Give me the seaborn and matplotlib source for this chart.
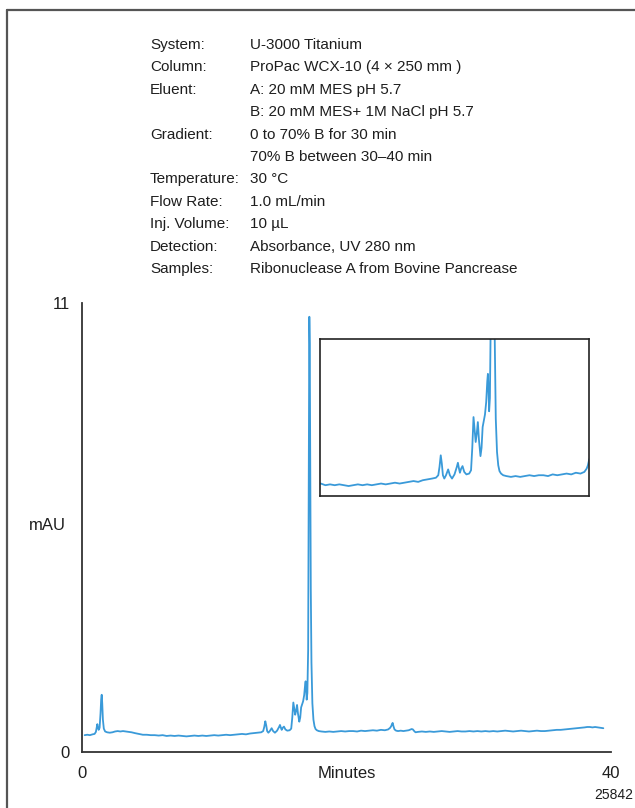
import matplotlib
matplotlib.use("Agg")
import matplotlib.pyplot as plt
from matplotlib.lines import Line2D
import seaborn as sns
import pandas as pd

# chromatogram, in pieces (minutes, mAU)
t_early = [0.2, 0.4, 0.6, 0.8, 0.95, 1.05, 1.12, 1.16, 1.20, 1.26,
           1.33, 1.40, 1.45, 1.49, 1.53, 1.58, 1.65, 1.75, 1.9, 2.1,
           2.3, 2.5, 2.7, 2.9, 3.1, 3.3, 3.5, 3.75, 4.0, 4.3,
           4.6, 4.9, 5.2, 5.5, 5.8]
s_early = [0.42, 0.43, 0.42, 0.44, 0.45, 0.50, 0.62, 0.69, 0.62, 0.55,
           0.60, 0.95, 1.30, 1.41, 1.20, 0.80, 0.58, 0.51, 0.49, 0.48,
           0.49, 0.51, 0.52, 0.51, 0.52, 0.51, 0.50, 0.49, 0.47, 0.45,
           0.43, 0.43, 0.42, 0.42, 0.41]

t_flat = [6.1, 6.4, 6.7, 7.0, 7.3, 7.6, 7.9, 8.2, 8.5, 8.8,
          9.1, 9.4, 9.7, 10.0, 10.3, 10.6, 10.9, 11.2, 11.5, 11.8,
          12.1, 12.4, 12.7, 13.0, 13.3, 13.55]
s_flat = [0.42, 0.40, 0.41, 0.40, 0.41, 0.40, 0.39, 0.40, 0.41, 0.40,
          0.41, 0.40, 0.41, 0.42, 0.41, 0.42, 0.43, 0.42, 0.43, 0.44,
          0.45, 0.44, 0.46, 0.47, 0.48, 0.49]

t_cluster = [13.70, 13.78, 13.86, 13.93, 14.00, 14.09, 14.20, 14.34, 14.45, 14.59,
             14.75, 14.90, 14.97, 15.04, 15.10, 15.18, 15.27, 15.38, 15.52, 15.70,
             15.82, 15.90, 15.98, 16.06, 16.12, 16.19, 16.26, 16.33, 16.43, 16.50,
             16.57, 16.63, 16.72, 16.80, 16.87, 16.91, 16.95, 16.99, 17.04]
s_cluster = [0.52, 0.62, 0.76, 0.66, 0.52, 0.48, 0.52, 0.59, 0.52, 0.48,
             0.53, 0.62, 0.67, 0.60, 0.55, 0.60, 0.63, 0.56, 0.53, 0.54,
             0.58, 0.85, 1.22, 1.05, 0.92, 1.02, 1.16, 0.95, 0.75, 0.85,
             1.10, 1.16, 1.25, 1.40, 1.65, 1.74, 1.55, 1.29, 1.45]

t_main = [17.10, 17.14, 17.17, 17.19, 17.22, 17.26, 17.30, 17.35, 17.42, 17.50,
          17.58, 17.66, 17.76, 17.90]
s_main = [2.5, 6.5, 10.0, 10.67, 10.0, 7.0, 4.0, 2.2, 1.2, 0.80,
          0.64, 0.57, 0.54, 0.52]

t_mid = [18.1, 18.4, 18.7, 19.0, 19.3, 19.6, 19.9, 20.2, 20.5, 20.8,
         21.1, 21.4, 21.7, 22.0, 22.3, 22.6, 22.9, 23.15, 23.30, 23.38,
         23.44, 23.49, 23.55, 23.63, 23.75, 23.9, 24.1, 24.3, 24.5, 24.7,
         24.85, 24.93, 25.02, 25.12, 25.22, 25.4]
s_mid = [0.51, 0.50, 0.51, 0.50, 0.51, 0.52, 0.51, 0.52, 0.52, 0.51,
         0.53, 0.52, 0.53, 0.54, 0.53, 0.55, 0.54, 0.56, 0.60, 0.64,
         0.69, 0.72, 0.64, 0.56, 0.53, 0.52, 0.53, 0.52, 0.53, 0.54,
         0.56, 0.57, 0.56, 0.52, 0.49, 0.50]

t_late = [25.7, 26.0, 26.3, 26.6, 26.9, 27.2, 27.5, 27.8, 28.1, 28.4,
          28.7, 29.0, 29.3, 29.6, 29.9, 30.2, 30.5, 30.8, 31.1, 31.4,
          31.7, 32.0, 32.3, 32.6, 32.9, 33.2, 33.5, 33.8, 34.1, 34.4,
          34.7, 35.0, 35.3, 35.6, 35.9, 36.2, 36.5, 36.8, 37.1, 37.4,
          37.7, 38.0, 38.2, 38.4, 38.6, 38.8, 39.0, 39.2, 39.42]
s_late = [0.51, 0.50, 0.51, 0.50, 0.51, 0.52, 0.51, 0.50, 0.51, 0.52,
          0.51, 0.51, 0.52, 0.51, 0.52, 0.51, 0.52, 0.51, 0.52, 0.51,
          0.52, 0.53, 0.52, 0.51, 0.52, 0.53, 0.52, 0.51, 0.52, 0.53,
          0.52, 0.52, 0.53, 0.54, 0.55, 0.55, 0.56, 0.57, 0.58, 0.59,
          0.60, 0.61, 0.62, 0.62, 0.61, 0.62, 0.61, 0.60, 0.59]

param_labels = ["System:", "Column:", "Eluent:", "", "Gradient:", "", "Temperature:",
                "Flow Rate:", "Inj. Volume:", "Detection:", "Samples:"]
param_values = ["U-3000 Titanium", "ProPac WCX-10 (4 \u00d7 250 mm )", "A: 20 mM MES pH 5.7",
                "B: 20 mM MES+ 1M NaCl pH 5.7", "0 to 70% B for 30 min",
                "70% B between 30\u201340 min", "30 \u00b0C", "1.0 mL/min", "10 \u00b5L",
                "Absorbance, UV 280 nm", "Ribonuclease A from Bovine Pancrease"]

minutes = t_early + t_flat + t_cluster + t_main + t_mid + t_late
mau = s_early + s_flat + s_cluster + s_main + s_mid + s_late
trace = pd.DataFrame({"Minutes": minutes, "mAU": mau})

sns.set_style("white")
plt.rcParams["font.family"] = ["Liberation Sans", "DejaVu Sans"]

W, H = 635, 808
blue = "#3a9ad9"
ink = "#1e1e1e"
fs = 11

fig = plt.figure(figsize=(W / 100, H / 100), dpi=100)

# main chromatogram
ax = fig.add_axes([82 / W, 1 - 752.3 / H, (611 - 82) / W, 449 / H])
sns.lineplot(data=trace, x="Minutes", y="mAU", ax=ax, color=blue, linewidth=1.3,
             estimator=None, sort=False)
ax.set_xlim(0, 40)
ax.set_ylim(0, 11)
ax.set_xticks([0, 40])
ax.set_yticks([0, 11])
ax.set_xlabel("")
ax.set_ylabel("")
for side in ["top", "right"]:
    ax.spines[side].set_visible(False)
for side in ["left", "bottom"]:
    ax.spines[side].set_color("#333333")
    ax.spines[side].set_linewidth(1.3)
ax.tick_params(axis="both", direction="out", length=7, width=1.3, color="#333333",
               labelsize=fs + 1, labelcolor=ink, pad=2)
ax.tick_params(axis="x", length=6, pad=4)

fig.text(346.5 / W, 1 - 773 / H, "Minutes", ha="center", va="center", fontsize=fs + 1, color=ink)
fig.text(47 / W, 1 - 525 / H, "mAU", ha="center", va="center", fontsize=fs + 1, color=ink)
fig.text(633 / W, 1 - 795 / H, "25842", ha="right", va="center", fontsize=fs - 1, color=ink)

# inset zoom on the minor peaks
ins = fig.add_axes([320 / W, 1 - 496 / H, 269 / W, 157 / H])
sns.lineplot(data=trace, x="Minutes", y="mAU", ax=ins, color=blue, linewidth=1.3,
             estimator=None, sort=False)
ins.set_xlim(6.05, 23.45)
ins.set_ylim(0.27, 2.16)
ins.set_xticks([])
ins.set_yticks([])
ins.set_xlabel("")
ins.set_ylabel("")
for side in ins.spines.values():
    side.set_visible(True)
    side.set_color("#222222")
    side.set_linewidth(1.2)

# method conditions
for i, (lab, val) in enumerate(zip(param_labels, param_values)):
    y = 1 - (45 + i * 22.4) / H
    fig.text(150 / W, y, lab, ha="left", va="center", fontsize=fs, color=ink)
    fig.text(250 / W, y, val, ha="left", va="center", fontsize=fs, color=ink)

# page frame (top and left edges)
fig.add_artist(Line2D([7 / W, 1.0], [1 - 10 / H, 1 - 10 / H], color="#555555", linewidth=1.6))
fig.add_artist(Line2D([7 / W, 7 / W], [0.0, 1 - 10 / H], color="#555555", linewidth=1.6))

fig.savefig("out.png", dpi=100)
